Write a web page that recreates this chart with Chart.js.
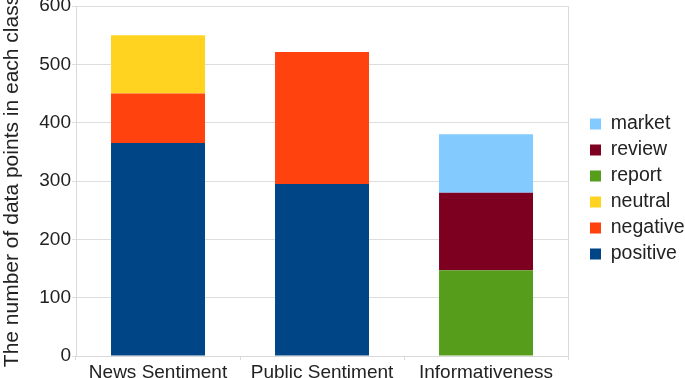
<!DOCTYPE html>
<html>
<head>
<meta charset="utf-8">
<script src="https://cdn.jsdelivr.net/npm/chart.js@4"></script>
<style>
  html, body { margin: 0; padding: 0; background: #fff; }
  #wrap { width: 685px; height: 378px; position: relative; }
</style>
</head>
<body>
<div id="wrap"><canvas id="classChart"></canvas></div>
<script>
// Données
const categories = ['News Sentiment', 'Public Sentiment', 'Informativeness'];
const positive = [365, 295, null];
const negative = [85, 226, null];
const neutral = [100, null, null];
const report = [null, null, 147];
const review = [null, null, 133];
const market = [null, null, 100];
const yTicks = [0, 100, 200, 300, 400, 500, 600];

const series = [
    { label: 'positive', data: positive, color: '#004586' },
    { label: 'negative', data: negative, color: '#ff420e' },
    { label: 'neutral', data: neutral, color: '#ffd320' },
    { label: 'report', data: report, color: '#579d1c' },
    { label: 'review', data: review, color: '#7e0021' },
    { label: 'market', data: market, color: '#83caff' }
];

Chart.defaults.font.family = '"Liberation Sans", Arial, sans-serif';
Chart.defaults.color = '#222';

new Chart(document.getElementById('classChart').getContext('2d'), {
    type: 'bar',
    data: {
        labels: categories,
        datasets: series.map(s => ({
            label: s.label,
            data: s.data,
            backgroundColor: s.color,
            borderWidth: 0,
            categoryPercentage: 1,
            barPercentage: 0.573
        }))
    },
    options: {
        responsive: true,
        maintainAspectRatio: false,
        animation: false,
        layout: { padding: { top: 0, right: 6, bottom: 0, left: 0 } },
        plugins: {
            legend: {
                position: 'right',
                reverse: true,
                align: 'center',
                labels: {
                    boxWidth: 11,
                    boxHeight: 11,
                    padding: 6.5,
                    font: { size: 19.5 },
                    color: '#222'
                }
            },
            tooltip: { enabled: false }
        },
        scales: {
            x: {
                stacked: true,
                grid: { display: true, drawOnChartArea: false, color: '#d9d9d9', tickLength: 4, offset: true },
                border: { color: '#d9d9d9' },
                ticks: { font: { size: 19 }, color: '#222', padding: 1, maxRotation: 0 },
                afterFit: axis => { axis.height = 22; }
            },
            y: {
                stacked: true,
                min: 0,
                max: 600,
                afterBuildTicks: axis => { axis.ticks = yTicks.map(v => ({ value: v })); },
                grid: { color: '#dddddd', tickLength: 4 },
                border: { display: true, color: '#d9d9d9' },
                ticks: { font: { size: 19 }, color: '#222', padding: 1 },
                title: {
                    display: true,
                    text: 'The number of data points in each class',
                    font: { size: 21 },
                    color: '#222',
                    padding: 0
                },
                afterFit: axis => {
                    axis.width = 76;
                    axis.paddingTop = 6;
                    axis.paddingBottom = 0;
                }
            }
        }
    },
    plugins: [{
        // décale la légende pour que les carrés tombent à x = 590
        id: 'legendShift',
        afterLayout(chart) {
            const lg = chart.legend;
            const shift = 590 - (lg.left + lg.options.labels.padding);
            lg.left += shift;
            lg.right += shift;
        }
    }, {
        id: 'rightBorder',
        afterDraw(chart) {
            const { ctx, chartArea } = chart;
            ctx.save();
            ctx.strokeStyle = '#d9d9d9';
            ctx.lineWidth = 1;
            ctx.beginPath();
            ctx.moveTo(chartArea.right + 0.5, chartArea.top);
            ctx.lineTo(chartArea.right + 0.5, chartArea.bottom);
            ctx.stroke();
            ctx.restore();
        }
    }]
});
</script>
</body>
</html>
